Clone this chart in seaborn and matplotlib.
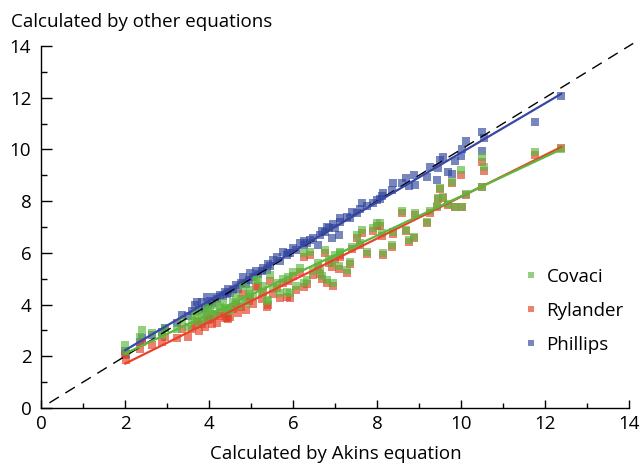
import matplotlib
matplotlib.use("Agg")
import numpy as np
import pandas as pd
import seaborn as sns
import matplotlib.pyplot as plt
from matplotlib.lines import Line2D
from matplotlib.ticker import MultipleLocator

# ---- data ----
akins = [2.00, 2.02, 2.36, 2.40, 2.64, 2.87, 2.95, 3.23, 3.35, 3.50,
         3.60, 3.67, 3.71, 3.75, 3.83, 3.90, 3.95, 3.98, 4.02, 4.08,
         4.14, 4.20, 4.26, 4.34, 4.38, 4.42, 4.46, 4.50,
         4.58, 4.65, 4.70, 4.76, 4.82, 4.88, 4.95, 4.98, 5.05, 5.13,
         5.17, 5.25, 5.29, 5.37, 5.41, 5.45,
         5.53, 5.61, 5.68, 5.77, 5.85, 5.89, 5.93, 6.00, 6.08, 6.17,
         6.25, 6.25, 6.33, 6.40, 6.48,
         6.60, 6.64, 6.70, 6.76, 6.80, 6.86, 6.92, 6.95, 7.00, 7.10,
         7.12, 7.12, 7.28, 7.36, 7.40,
         7.52, 7.60, 7.64, 7.75, 7.91, 8.00, 8.07, 8.11, 8.15, 8.35, 8.39,
         8.59, 8.70, 8.75, 8.87, 8.90, 9.18, 9.26, 9.42, 9.46, 9.50,
         9.58, 9.70, 9.78, 9.86, 9.99, 10.02, 10.13, 10.49, 10.49, 10.55,
         11.75, 12.39]

phillips = [2.20, 2.10, 2.55, 2.70, 2.82, 2.95, 3.08, 3.30, 3.60, 3.55,
            3.75, 3.98, 4.11, 3.80, 4.10, 3.85, 4.30, 4.00, 4.15, 4.05,
            4.30, 4.20, 4.37, 4.35, 4.50, 4.40, 4.60, 4.45,
            4.56, 4.75, 4.60, 4.85, 5.08, 4.80, 4.95, 5.21, 5.05, 5.30,
            5.20, 5.30, 5.40, 5.35, 5.55, 5.50,
            5.72, 5.85, 5.70, 6.04, 5.90, 6.00, 5.98, 6.17, 6.10, 6.37,
            6.30, 6.45, 6.40, 6.50, 6.56,
            6.30, 6.70, 6.85, 6.80, 7.01, 6.95, 6.56, 7.10, 6.95, 6.70,
            7.33, 7.20, 7.40, 7.33, 7.59,
            7.55, 7.70, 7.91, 7.80, 7.91, 8.05, 8.10, 8.20, 8.30, 8.45, 8.69,
            8.70, 8.88, 8.60, 9.00, 8.62, 8.95, 9.33, 8.82, 9.30, 9.60,
            9.72, 9.14, 9.04, 9.55, 9.74, 10.00, 10.32, 10.66, 9.94, 10.45,
            11.05, 12.08]

covaci = [2.45, 2.20, 2.75, 3.02, 2.89, 2.82, 3.10, 3.05, 3.35, 3.14,
          3.40, 3.54, 3.70, 3.30, 3.60, 3.45, 3.85, 3.75, 3.79, 3.55,
          4.00, 3.65, 3.90, 4.05, 3.85, 3.80, 3.75, 3.79,
          4.10, 4.30, 3.95, 4.20, 4.70, 4.05, 4.40, 4.55, 4.30, 4.95,
          4.95, 4.50, 4.70, 4.15, 4.18, 5.14,
          4.60, 4.85, 4.45, 5.00, 4.50, 5.08, 4.43, 5.25, 4.70, 5.40,
          5.98, 4.82, 4.95, 6.04, 5.30,
          5.60, 5.34, 5.10, 6.11, 4.95, 5.75, 5.60, 4.82, 5.90, 5.50,
          6.04, 5.98, 5.34, 5.66, 6.24,
          6.69, 6.40, 6.88, 6.05, 6.95, 7.14, 7.14, 6.76, 5.98, 6.30, 6.82,
          7.62, 6.90, 6.50, 6.62, 7.53, 7.20, 7.60, 7.80, 8.11, 8.50,
          8.17, 7.90, 8.73, 7.78, 9.20, 7.78, 8.26, 9.69, 8.53, 9.31,
          9.89, 10.00]

rylander = [2.05, 1.85, 2.30, 2.55, 2.45, 2.55, 2.75, 2.70, 3.05, 2.76,
            3.05, 3.20, 3.35, 2.98, 3.25, 3.15, 3.55, 3.40, 3.45, 3.25,
            3.65, 3.27, 3.55, 3.70, 3.50, 3.50, 3.45, 3.52,
            3.82, 4.02, 3.68, 3.92, 4.42, 3.78, 4.12, 4.28, 4.03, 4.68,
            4.73, 4.23, 4.48, 3.92, 4.00, 4.93,
            4.40, 4.65, 4.25, 4.82, 4.30, 4.90, 4.25, 5.10, 4.55, 5.25,
            5.85, 4.68, 4.80, 5.90, 5.15,
            5.45, 5.20, 4.97, 6.00, 4.82, 5.62, 5.47, 4.70, 5.78, 5.38,
            5.92, 5.85, 5.22, 5.55, 6.13,
            6.58, 6.30, 6.78, 5.95, 6.85, 7.04, 7.05, 6.67, 5.90, 6.22, 6.74,
            7.55, 6.83, 6.43, 6.56, 7.47, 7.15, 7.55, 7.76, 8.07, 8.46,
            8.13, 7.87, 8.70, 7.76, 9.00, 7.76, 8.25, 9.53, 8.53, 9.16,
            9.80, 10.05]

legend_order = ["Covaci", "Rylander", "Phillips"]
draw_order = ["Phillips", "Rylander", "Covaci"]
identity = [0.2, 14.1]
ticks_major = [0, 2, 4, 6, 8, 10, 12, 14]

colors = {"Covaci": "#5bb83e", "Rylander": "#e23e22", "Phillips": "#30459b"}
line_colors = {"Covaci": "#5cb83c", "Rylander": "#e8432a", "Phillips": "#3647a5"}

df = pd.DataFrame({"Akins": akins, "Phillips": phillips,
                   "Covaci": covaci, "Rylander": rylander})
long = df.melt(id_vars="Akins", var_name="Equation", value_name="Other")

FS = 13.5
sns.set_theme(style="ticks")
plt.rcParams["font.family"] = ["Open Sans", "DejaVu Sans"]
plt.rcParams["font.size"] = FS
plt.rcParams["text.color"] = "black"
plt.rcParams["xtick.color"] = "black"
plt.rcParams["ytick.color"] = "black"

fig = plt.figure(figsize=(6.43, 4.65), dpi=100)
ax = fig.add_axes([41 / 643, 57 / 465, 588 / 643, 362 / 465])

for name in draw_order:
    sub = long[long["Equation"] == name]
    sns.scatterplot(data=sub, x="Akins", y="Other", ax=ax, marker="s",
                    s=40, color=colors[name], alpha=0.65, linewidth=0,
                    legend=False, zorder=2)

ax.plot(identity, identity, color="black", lw=1.0, dashes=(8, 5.5),
        clip_on=False, zorder=3)

for name in draw_order:
    sub = long[long["Equation"] == name]
    sns.regplot(data=sub, x="Akins", y="Other", ax=ax, scatter=False,
                ci=None, truncate=True,
                line_kws={"color": line_colors[name], "lw": 1.6, "zorder": 4})

ax.set_xlim(0, 14)
ax.set_ylim(0, 14)
ax.set_xticks(ticks_major)
ax.set_yticks(ticks_major)
ax.xaxis.set_minor_locator(MultipleLocator(1))
ax.yaxis.set_minor_locator(MultipleLocator(1))
ax.tick_params(axis="x", which="major", direction="in", length=6, width=1,
               pad=5, labelsize=FS, colors="black")
ax.tick_params(axis="x", which="minor", direction="in", length=3.6, width=1)
ax.tick_params(axis="y", which="major", direction="in", length=8, width=1,
               pad=7, labelsize=FS, colors="black")
ax.tick_params(axis="y", which="minor", direction="in", length=4.5, width=1)
for side in ["top", "right"]:
    ax.spines[side].set_visible(False)
for side in ["left", "bottom"]:
    ax.spines[side].set_linewidth(1)
    ax.spines[side].set_color("black")
ax.set_xlabel("")
ax.set_ylabel("")

fig.text(336 / 643, 1 - 454 / 465, "Calculated by Akins equation",
         ha="center", va="center", fontsize=FS, color="black")
fig.text(11 / 643, 1 - 22 / 465, "Calculated by other equations",
         ha="left", va="center", fontsize=FS, color="black")

handles = [Line2D([], [], linestyle="none", marker="s", markersize=5,
                  markerfacecolor=colors[n], markeredgewidth=0, alpha=0.65)
           for n in legend_order]
leg = ax.legend(handles, legend_order, loc="upper left",
                bbox_to_anchor=(522 / 643, 1 - 268 / 465),
                bbox_transform=fig.transFigure, frameon=False, fontsize=FS,
                handlelength=1.0, handletextpad=0.3, labelspacing=0.85,
                borderpad=0, borderaxespad=0)
for t in leg.get_texts():
    t.set_color("black")

fig.savefig("out.png", dpi=100)
